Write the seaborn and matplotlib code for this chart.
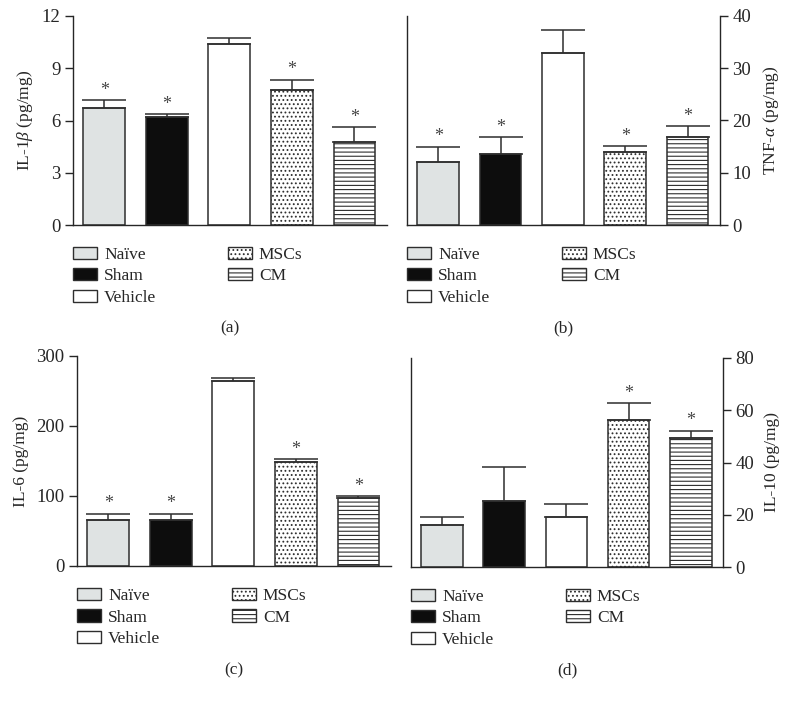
import numpy as np
import matplotlib
matplotlib.use("Agg")
import matplotlib.pyplot as plt
from matplotlib.patches import Patch
import seaborn as sns

groups = ["Naïve", "Sham", "Vehicle", "MSCs", "CM"]

il1b = [6.72, 6.20, 10.38, 7.73, 4.77]
il1b_err = [0.46, 0.15, 0.34, 0.62, 0.86]
tnfa = [12.06, 13.6, 32.9, 14.0, 16.8]
tnfa_err = [2.94, 3.2, 4.5, 1.1, 2.1]
il6 = [65.7, 65.6, 264.6, 149.0, 96.7]
il6_err = [9.3, 9.0, 3.4, 4.0, 3.3]
il10 = [16.1, 25.3, 19.0, 56.4, 49.3]
il10_err = [3.2, 12.9, 5.0, 6.2, 2.9]

sig_a = [True, True, False, True, True]
sig_b = [True, True, False, True, True]
sig_c = [True, True, False, True, True]
sig_d = [False, False, False, True, True]

fills = ["#dfe3e3", "#0d0d0d", "#ffffff", "#ffffff", "#ffffff"]
hatches = ["", "", "", "....", "----"]
edge = "#2e2e2e"

sns.set_style("ticks")
plt.rcParams["font.family"] = ["Liberation Serif", "DejaVu Serif"]
plt.rcParams["mathtext.fontset"] = "custom"
plt.rcParams["mathtext.it"] = "Liberation Serif:italic"
plt.rcParams["mathtext.rm"] = "Liberation Serif"
plt.rcParams["hatch.linewidth"] = 0.8
plt.rcParams["axes.linewidth"] = 1.0

fig = plt.figure(figsize=(7.91, 7.01), dpi=100)
W, H = 791, 701


def add_ax(l, r, top, bot):
    return fig.add_axes([l / W, 1 - bot / H, (r - l) / W, (bot - top) / H])


def panel(ax, vals, errs, sig, ymax, yticks, ylabel, right, tag):
    sns.barplot(x=groups, y=vals, hue=groups, palette=fills, width=0.67,
                saturation=1, edgecolor=edge, linewidth=1.1, legend=False,
                ax=ax, zorder=2)
    for p, h in zip(ax.patches, hatches):
        p.set_hatch(h)
    x = np.arange(len(groups))
    ax.errorbar(x, vals, yerr=[np.zeros(len(vals)), errs], fmt="none",
                ecolor=edge, elinewidth=1.1, capsize=15.5, capthick=1.1,
                zorder=3)
    for xi, v, e, s in zip(x, vals, errs, sig):
        if s:
            ax.annotate("*", (xi, v + e), xytext=(0, 1), textcoords="offset points",
                        ha="center", va="bottom", fontsize=13, color="#444444")
    ax.set_xlim(-0.5, 4.52)
    ax.set_ylim(0, ymax)
    ax.set_yticks(yticks)
    ax.set_xticks([])
    ax.set_xlabel("")
    ax.tick_params(axis="y", direction="out", length=6, width=1.0,
                   labelsize=13.5, pad=3)
    ax.spines["top"].set_visible(False)
    if right:
        ax.yaxis.tick_right()
        ax.yaxis.set_label_position("right")
        ax.spines["right"].set_visible(True)
        ax.set_ylabel(ylabel, fontsize=12.5, labelpad=7)
    else:
        ax.spines["right"].set_visible(False)
        ax.set_ylabel(ylabel, fontsize=12.5, labelpad=5)
    handles = [Patch(facecolor=f, edgecolor=edge, hatch=h, linewidth=1.0)
               for f, h in zip(fills, hatches)]
    ax.legend(handles, groups, loc="upper left", bbox_to_anchor=(0, -0.105),
              bbox_transform=ax.transAxes, ncol=2, frameon=False, fontsize=12.5,
              borderpad=0, borderaxespad=0, handlelength=1.4, handleheight=0.7,
              handletextpad=0.4, labelspacing=0.3, columnspacing=4.1)
    ax.text(0.5, -0.495, tag, transform=ax.transAxes, ha="center", va="center",
            fontsize=12.5)


ax_a = add_ax(73, 387, 16, 225)
panel(ax_a, il1b, il1b_err, sig_a, 12, [0, 3, 6, 9, 12],
      r"IL-1$\mathit{\beta}$ (pg/mg)", False, "(a)")

ax_b = add_ax(407, 720, 16, 225)
panel(ax_b, tnfa, tnfa_err, sig_b, 40, [0, 10, 20, 30, 40],
      r"TNF-$\mathit{\alpha}$ (pg/mg)", True, "(b)")

ax_c = add_ax(77, 391, 356, 566)
panel(ax_c, il6, il6_err, sig_c, 300, [0, 100, 200, 300],
      "IL-6 (pg/mg)", False, "(c)")

ax_d = add_ax(411, 723, 358, 567)
panel(ax_d, il10, il10_err, sig_d, 80, [0, 20, 40, 60, 80],
      "IL-10 (pg/mg)", True, "(d)")

fig.savefig("out.png", dpi=100)
